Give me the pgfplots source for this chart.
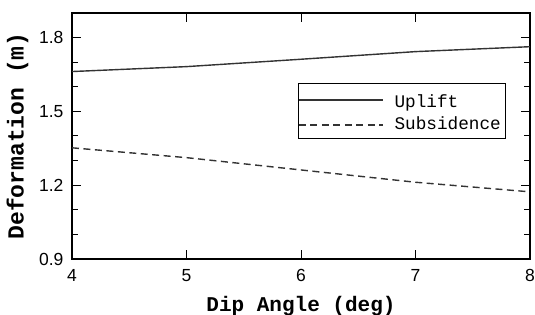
\documentclass[border=0pt]{standalone}
\usepackage{fontspec}
\setmainfont{Liberation Sans}
\newfontfamily\cour{Liberation Mono}
\usepackage{pgfplots}
\pgfplotsset{compat=1.18}
\begin{document}
\begin{tikzpicture}
\useasboundingbox (0pt,0pt) rectangle (535pt,315pt);
\begin{axis}[
  at={(72pt,56pt)}, anchor=south west,
  scale only axis, width=458pt, height=246pt,
  xmin=4, xmax=8, ymin=0.9, ymax=1.9,
  xtick={4,5,6,7,8},
  ytick={0.9,1.2,1.5,1.8},
  minor ytick={1.0,1.1,1.3,1.4,1.6,1.7},
  yticklabel style={/pgf/number format/fixed, /pgf/number format/fixed zerofill,
    /pgf/number format/precision=1, xshift=-5pt},
  tick align=inside,
  major tick length=9pt, minor tick length=6pt,
  every tick/.style={black, line width=1pt},
  axis line style={line width=1.2pt},
  tick label style={font=\fontsize{17.5}{20}\selectfont, text=black},
  xticklabel style={yshift=-7pt},
  /pgf/number format/assume math mode=true,
  xlabel={\cour\bfseries Dip Angle (deg)},
  ylabel={\cour\bfseries Deformation (m)},
  xlabel style={font=\fontsize{21}{24}\selectfont, yshift=-7pt},
  ylabel style={font=\fontsize{23}{26}\selectfont, yshift=4pt},
  legend style={at={(0.493,0.715)}, anchor=north west, draw=black, line width=0.8pt,
    font=\cour\fontsize{17.7}{20}\selectfont, inner xsep=0pt, inner ysep=2.5pt,
    row sep=0pt, column sep=6pt,
    nodes={inner xsep=5pt, inner ysep=2.5pt, text height=13pt, text depth=4pt},
    legend cell align=left},
  legend image code/.code={\draw[#1] (0,0) -- (84pt,0);},
]
\addplot[color=black!80, line width=1.4pt] coordinates {(4,1.662) (5,1.682) (6,1.712) (7,1.743) (8,1.763)};
\addlegendentry[text height=19pt]{Uplift}
\addplot[color=black!80, line width=1.4pt, dash pattern=on 7pt off 4.5pt] coordinates {(4,1.352) (5,1.312) (6,1.262) (7,1.212) (8,1.173)};
\addlegendentry{Subsidence}
\end{axis}
\end{tikzpicture}
\end{document}
